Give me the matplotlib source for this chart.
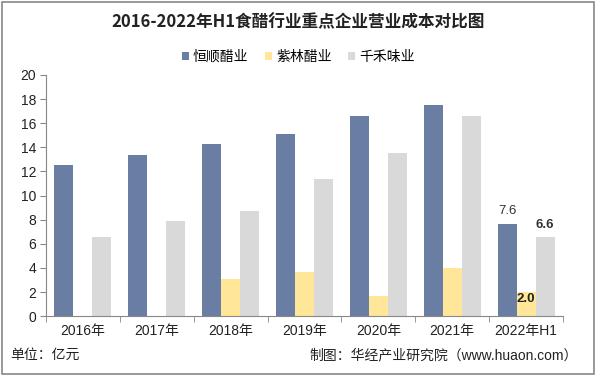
import numpy as np
import matplotlib
matplotlib.use('Agg')
import matplotlib.pyplot as plt
from matplotlib.patches import Rectangle

plt.rcParams['font.family'] = ['Liberation Sans', 'Noto Sans CJK SC', 'DejaVu Sans']

# === Dados ===
categories = ['2016年', '2017年', '2018年', '2019年', '2020年', '2021年', '2022年H1']
hengshun = [12.5, 13.4, 14.3, 15.1, 16.6, 17.5, 7.6]
zilin = [0, 0, 3.1, 3.7, 1.7, 4.0, 2.0]
qianhe = [6.6, 7.9, 8.7, 11.4, 13.5, 16.6, 6.6]
series_names = ['恒顺醋业', '紫林醋业', '千禾味业']
colors = ['#6A7EA3', '#FFE699', '#D9D9D9']
yticks = list(range(0, 21, 2))

fig = plt.figure(figsize=(5.97, 3.75), dpi=100)
ax = fig.add_axes([0.077, 0.157, 0.866, 0.643])

x = np.arange(len(categories))
w = 0.257
for i, (vals, name, c) in enumerate(zip([hengshun, zilin, qianhe], series_names, colors)):
    ax.bar(x + (i - 1) * w, vals, width=w, color=c, label=name)

# rótulos só para 2022H1
last = len(categories) - 1
ax.text(x[last] - w, hengshun[last] + 0.6, f'{hengshun[last]:.1f}', ha='center', va='bottom',
        fontsize=9.5, color='#333333')
ax.text(x[last] + w, qianhe[last] + 0.5, f'{qianhe[last]:.1f}', ha='center', va='bottom',
        fontsize=9.5, color='#333333', fontweight='bold')
ax.text(x[last], zilin[last] - 0.1, f'{zilin[last]:.1f}', ha='center', va='top',
        fontsize=9.5, color='#222222', fontweight='bold')

ax.set_xlim(-0.5, len(categories) - 0.5)
ax.set_ylim(0, 20)
ax.set_yticks(yticks)
ax.set_yticklabels([str(t) for t in yticks], fontsize=10, color='#222222')
ax.set_xticks(x)
ax.set_xticklabels(categories, fontsize=10, color='#222222')
ax.set_xticks(np.arange(-0.5, len(categories)), minor=True)
ax.tick_params(axis='x', which='major', length=0, pad=6)
ax.tick_params(axis='x', which='minor', length=4, color='#888888')
ax.tick_params(axis='y', length=4, color='#888888', pad=3)
for s in ['top', 'right']:
    ax.spines[s].set_visible(False)
for s in ['left', 'bottom']:
    ax.spines[s].set_color('#888888')
    ax.spines[s].set_linewidth(0.8)

fig.text(0.5, 0.94, '2016-2022年H1食醋行业重点企业营业成本对比图', ha='center', va='center',
         fontsize=12, fontweight='bold', color='#222222',
         family=['Noto Sans CJK SC', 'DejaVu Sans'])
ax.legend(loc='center', bbox_to_anchor=(0.5, 0.848), bbox_transform=fig.transFigure, ncol=3,
          frameon=False, fontsize=10, handlelength=0.5, handleheight=0.5, handletextpad=0.3,
          columnspacing=1.2)

fig.text(0.017, 0.053, '单位：亿元', ha='left', va='center', fontsize=10, color='#222222')
fig.text(0.968, 0.053, '制图：华经产业研究院（www.huaon.com）', ha='right', va='center',
         fontsize=10, color='#222222')

fig.patches.append(Rectangle((0.003, 0.004), 0.992, 0.99, transform=fig.transFigure,
                             fill=False, edgecolor='#888888', linewidth=1.2))

plt.savefig('out.png', dpi=100)
plt.close()
